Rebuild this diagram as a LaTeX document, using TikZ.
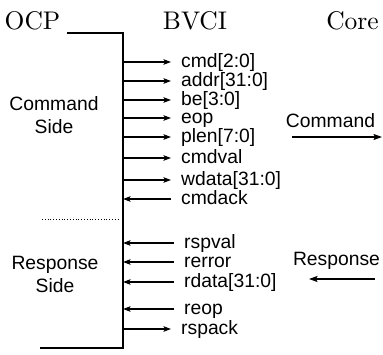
\documentclass[tikz,border=0pt]{standalone}
\usepackage{fontspec}
\newfontfamily\arial{Liberation Sans}
\newfontfamily\lmten{lmroman10-regular}[Extension=.otf]
\usetikzlibrary{arrows.meta}
\begin{document}
\begin{tikzpicture}[x=1pt,y=-1pt,
  head/.style={font=\lmten\fontsize{25.5}{30}\selectfont, anchor=base, inner sep=0pt},
  side/.style={font=\arial\fontsize{19.3}{23}\selectfont, align=center, inner sep=0pt},
  lab/.style={font=\arial\fontsize{19.3}{23}\selectfont, anchor=west, inner xsep=10pt, inner ysep=0pt, text height=10pt, text depth=0pt},
  bus/.style={line width=1.4pt},
  arr/.style={line width=1.2pt, -{Stealth[length=7.5pt,width=5.5pt,inset=1.5pt]}},
  big/.style={line width=1.6pt, -{Stealth[length=8.5pt,width=6pt,inset=1.5pt]}}
]
\useasboundingbox (0,0) rectangle (383,354);
% headers
\node[head] (ocp) at (32.5,29) {OCP};
\node[head] (bvci) at (195,29) {BVCI};
\node[head] (core) at (352.5,29) {Core};
% bus
\coordinate (ocpend) at (67,33);
\coordinate (top) at (123,33);
\coordinate (bot) at (123,348);
\coordinate (botend) at (40,348);
\draw[bus] (ocpend) -- (top) -- (bot) -- (botend);
% side labels
\node[side] (cside) at (54,117) {\strut Command\\ \strut Side};
\node[side] (rside) at (55,276) {\strut Response\\ \strut Side};
\coordinate (dl) at (42,219);
\coordinate (dr) at (118,219);
\draw[dotted, line width=0.8pt] (dl) -- (dr);
% command signals
\node[lab] (cmd) at (171,62) {cmd[2:0]};
\node[lab] (addr) at (171,81) {addr[31:0]};
\node[lab] (be) at (171,100) {be[3:0]};
\node[lab] (eop) at (171,118) {eop};
\node[lab] (plen) at (171,137) {plen[7:0]};
\node[lab] (cmdval) at (171,158) {cmdval};
\node[lab] (wdata) at (171,180) {wdata[31:0]};
\node[lab] (cmdack) at (171,199) {cmdack};
\foreach \n in {cmd,addr,be,eop,plen,cmdval,wdata}
  \draw[arr] (top |- \n.west) -- (\n.west);
\draw[arr] (cmdack.west) -- (top |- cmdack.west);
% response signals
\node[lab] (rspval) at (174,243) {rspval};
\node[lab] (rerror) at (174,262) {rerror};
\node[lab] (rdata) at (174,282) {rdata[31:0]};
\node[lab] (reop) at (174,309) {reop};
\node[lab] (rspack) at (171,329) {rspack};
\foreach \n in {rspval,rerror,rdata,reop}
  \draw[arr] (\n.west) -- (top |- \n.west);
\draw[arr] (top |- rspack.west) -- (rspack.west);
% right side
\node[side, anchor=base] (command) at (330.5,127) {Command};
\coordinate (ca) at (292,137);
\coordinate (cb) at (382,137);
\draw[big] (ca) -- (cb);
\node[side, anchor=base] (response) at (336.5,265) {Response};
\coordinate (ra) at (375,279);
\coordinate (rb) at (309,279);
\draw[big] (ra) -- (rb);
\end{tikzpicture}
\end{document}
